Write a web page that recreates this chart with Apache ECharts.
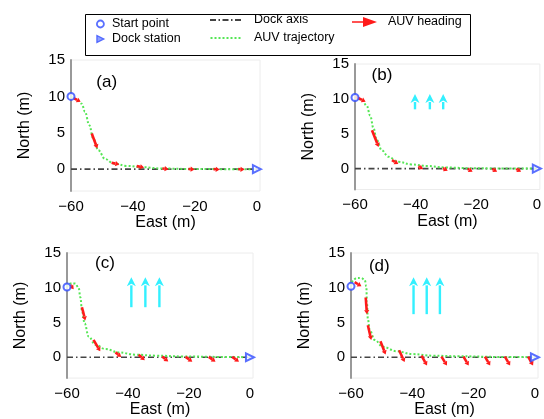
<!DOCTYPE html>
<html>
<head>
<meta charset="utf-8">
<script src="https://cdn.jsdelivr.net/npm/echarts@6/dist/echarts.min.js"></script>
<style>html,body{margin:0;padding:0;background:#fff;}#chart{width:544px;height:419px;}</style>
</head>
<body>
<div id="chart"></div>
<script>
// ---------- data ----------
var panelLabels = ['(a)', '(b)', '(c)', '(d)'];
var xTicks = [-60, -40, -20, 0];
var yTicks = [0, 5, 10, 15];
var dockAxis = [[-60, 0], [0, 0]];
var dockStation = [0, 0];

var startA = [-60, 10];
var startB = [-60, 10.2];
var startC = [-60, 10.1];
var startD = [-60, 10.2];

var trajA = [[-60,10],[-58.2,9.6],[-56.5,9.0],[-55.5,7.9],[-54.1,6.05],[-52.8,4.2],[-51.2,2.6],[-49,1.4],[-46.3,0.78],[-42,0.45],[-36.6,0.27],[-31.2,0.1],[-22,0.03],[-10,0],[0,0]];
var trajB = [[-60,10.2],[-57.7,9.9],[-56.1,9.0],[-55,7.6],[-53.9,5.8],[-52.8,4.1],[-51.2,2.65],[-49,1.7],[-45.8,0.98],[-41.4,0.6],[-36,0.36],[-30.6,0.17],[-21.9,0.05],[-10,0],[0,0]];
var trajC = [[-60,10.1],[-58.9,10.6],[-57.3,10.6],[-56.2,10.0],[-55.6,8.6],[-55.1,6.7],[-54.2,4.85],[-52.9,2.97],[-50.7,1.8],[-47.4,1.17],[-43,0.7],[-37.6,0.37],[-31,0.23],[-22.2,0.12],[-10,0.05],[0,0]];
var trajD = [[-60,10.2],[-59.3,11.1],[-58.2,11.4],[-56.6,11.4],[-55.5,11.1],[-55,10.2],[-54.8,7.9],[-54.5,5.5],[-53.9,3.9],[-52.3,2.5],[-49.6,1.5],[-45.2,0.87],[-39.8,0.45],[-33.3,0.23],[-25.6,0.15],[-12,0.05],[0,0]];

// heading arrows: [x, y, dx, dy]
var headA = [[-59.3,9.8,2.4,-0.55],[-53.3,4.9,1.8,-2.05],[-46.9,0.87,2.5,-0.22],[-38.8,0.42,2.4,-0.2],[-30.5,0.1,2.0,-0.1],[-22.1,0.02,2.0,-0.05],[-14,0,2,-0.05],[-6,0,2,-0.05]];
var headB = [[-59.8,10.3,3.3,-0.7],[-54.4,5.5,2.2,-2.4],[-47.8,1.2,2.1,-0.55],[-39.1,0.3,1.6,-0.35],[-31,0.05,1.6,-0.35],[-22.8,-0.05,1.6,-0.4],[-14.7,-0.05,1.6,-0.4],[-6.8,-0.05,1.6,-0.4]];
var headC = [[-58.9,10.4,1.1,-0.6],[-55.1,7.2,1.1,-1.9],[-51.3,2.5,2.2,-1.65],[-44.1,0.7,1.9,-0.66],[-36.5,0.37,2.0,-0.8],[-28.8,0.1,2.0,-0.7],[-21.1,0.05,2.2,-0.7],[-13.5,0.05,2.2,-0.7],[-5.8,0.05,2.2,-0.7]];
var headD = [[-58.8,10.8,2.2,-0.6],[-55.2,8.6,0.4,-2.4],[-54.5,4.6,1.1,-2.1],[-50.4,2.3,1.7,-1.9],[-44.3,1.0,1.8,-1.7],[-37,0.25,1.8,-1.45],[-30.5,0.1,1.8,-1.3],[-23.3,0.1,1.7,-1.3],[-16.3,0.1,1.7,-1.3],[-9.8,0.1,1.7,-1.3],[-2.2,0.1,1.6,-1.3]];

// current arrows: [x, yTail, yHead]
var currentA = [];
var currentB = [[-40.2,8.5,10.7],[-35.3,8.5,10.7],[-30.9,8.5,10.7]];
var currentC = [[-38.9,7.2,11.5],[-34.3,7.2,11.5],[-29.7,7.2,11.5]];
var currentD = [[-39.6,6.2,11.5],[-35.3,6.2,11.5],[-31.0,6.2,11.5]];

// ---------- layout ----------
var FONT = '"Liberation Sans", Arial, sans-serif';
var grids = [
  {left: 71, top: 60, width: 189, height: 131},
  {left: 355, top: 64, width: 187, height: 125.5},
  {left: 67, top: 253, width: 186, height: 127.5},
  {left: 351, top: 253, width: 187, height: 127.5}
];
var labelPos = [[106.7, 82.3], [382, 75], [105, 263.3], [379.3, 266]];
var starts = [startA, startB, startC, startD];
var trajs = [trajA, trajB, trajC, trajD];
var heads = [headA, headB, headC, headD];
var currents = [currentA, currentB, currentC, currentD];

function fmtX(v) {
  if (xTicks.indexOf(v) < 0) return '';
  return v < 0 ? '\u2212' + (-v) : String(v);
}
function fmtY(v) {
  return yTicks.indexOf(v) < 0 ? '' : String(v);
}

var xAxes = [], yAxes = [], series = [], gridOpts = [];
grids.forEach(function (g, i) {
  gridOpts.push({left: g.left, top: g.top, width: g.width, height: g.height,
    show: true, borderColor: '#ececec', borderWidth: 1});
  xAxes.push({
    type: 'value', gridIndex: i, min: -60, max: 1, interval: 20,
    name: 'East (m)', nameLocation: 'middle', nameGap: 23,
    nameTextStyle: {fontFamily: FONT, fontSize: 16, color: '#000'},
    axisLine: {show: false, onZero: false}, axisTick: {show: false}, splitLine: {show: false},
    axisLabel: {formatter: fmtX, fontFamily: FONT, fontSize: 15, color: '#000', margin: 8}
  });
  yAxes.push({
    type: 'value', gridIndex: i, min: -3, max: 15, interval: 1,
    name: 'North (m)', nameLocation: 'middle', nameGap: 38,
    nameTextStyle: {fontFamily: FONT, fontSize: 16, color: '#000'},
    axisLine: {show: true, onZero: false, lineStyle: {color: '#999', width: 2}},
    axisTick: {show: false},
    splitLine: {show: false},
    axisLabel: {formatter: fmtY, fontFamily: FONT, fontSize: 15, color: '#000', margin: 6}
  });
  series.push({
    name: 'Dock axis', type: 'line', xAxisIndex: i, yAxisIndex: i, z: 2,
    data: dockAxis, showSymbol: false, symbol: 'none', silent: true,
    itemStyle: {color: '#444'},
    lineStyle: {color: '#444', width: 1.6, type: [6, 3, 1.5, 3]}
  });
  series.push({
    name: 'AUV trajectory', type: 'line', xAxisIndex: i, yAxisIndex: i, z: 3,
    data: trajs[i], showSymbol: false, symbol: 'none', smooth: 0.4, smoothMonotone: 'x', silent: true,
    itemStyle: {color: '#55e655'},
    lineStyle: {color: '#55e655', width: 2, type: 'dotted'}
  });
  series.push({
    name: 'AUV heading', type: 'custom', xAxisIndex: i, yAxisIndex: i, z: 4,
    data: heads[i], silent: true,
    itemStyle: {color: '#ff1a1a'},
    renderItem: function (params, api) {
      var p0 = api.coord([api.value(0), api.value(1)]);
      var p1 = api.coord([api.value(0) + api.value(2), api.value(1) + api.value(3)]);
      var ang = Math.atan2(p1[1] - p0[1], p1[0] - p0[0]);
      var hl = 4, hw = 2.6;
      var bx = p1[0] - hl * Math.cos(ang), by = p1[1] - hl * Math.sin(ang);
      var nx = -Math.sin(ang), ny = Math.cos(ang);
      return {type: 'group', children: [
        {type: 'line', shape: {x1: p0[0], y1: p0[1], x2: bx, y2: by},
          style: {stroke: '#ff1a1a', lineWidth: 2.6}},
        {type: 'polygon', shape: {points: [[p1[0], p1[1]], [bx + nx * hw, by + ny * hw], [bx - nx * hw, by - ny * hw]]},
          style: {fill: '#ff1a1a'}}
      ]};
    }
  });
  if (currents[i].length) {
    series.push({
      name: 'Current', type: 'custom', xAxisIndex: i, yAxisIndex: i, z: 4,
      data: currents[i], silent: true,
      itemStyle: {color: '#33f0ff'},
      encode: {x: 0, y: [1, 2]},
      renderItem: function (params, api) {
        var p0 = api.coord([api.value(0), api.value(1)]);
        var p1 = api.coord([api.value(0), api.value(2)]);
        var hl = 9, hw = 4.5;
        return {type: 'group', children: [
          {type: 'line', shape: {x1: p0[0], y1: p0[1], x2: p1[0], y2: p1[1] + hl - 1},
            style: {stroke: '#33f0ff', lineWidth: 2.4}},
          {type: 'polygon', shape: {points: [[p1[0], p1[1]], [p1[0] + hw, p1[1] + hl], [p1[0], p1[1] + hl - 2.5], [p1[0] - hw, p1[1] + hl]]},
            style: {fill: '#33f0ff'}}
        ]};
      }
    });
  }
  series.push({
    name: 'Start point', type: 'scatter', xAxisIndex: i, yAxisIndex: i, z: 6,
    data: [starts[i]], symbol: 'emptyCircle', symbolSize: 7, silent: true,
    itemStyle: {color: '#2f4bff', borderColor: '#2f4bff', borderWidth: 1.6}
  });
  series.push({
    name: 'Dock station', type: 'scatter', xAxisIndex: i, yAxisIndex: i, z: 6,
    data: [dockStation], symbol: 'emptyTriangle', symbolRotate: -90, symbolSize: 8, silent: true,
    itemStyle: {color: '#2f4bff', borderColor: '#2f4bff', borderWidth: 1.6}
  });
});

var graphics = [{
  type: 'rect', left: 83, top: 12, z: 100,
  shape: {width: 385, height: 41},
  style: {fill: 'none', stroke: '#000', lineWidth: 1}
}];
panelLabels.forEach(function (t, i) {
  graphics.push({type: 'text', x: labelPos[i][0], y: labelPos[i][1], z: 100,
    style: {text: t, font: '17px ' + FONT, fill: '#000', textAlign: 'center', textVerticalAlign: 'middle'}});
});

// legend icon paths
function rectPath(x0, x1) { return 'M' + x0 + ',0L' + x1 + ',0L' + x1 + ',2L' + x0 + ',2Z'; }
var dashDotIcon = 'path://' + rectPath(0, 6) + rectPath(8.5, 10) + rectPath(12.5, 18.5) + rectPath(21, 22.5) + rectPath(25, 31);
var dotted = [];
for (var k = 0; k <= 28; k += 4) dotted.push(rectPath(k, k + 2));
var dottedIcon = 'path://' + dotted.join('');

var legendText = {fontFamily: FONT, fontSize: 12.5, color: '#000', lineHeight: 14};
var option = {
  animation: false,
  backgroundColor: '#fff',
  grid: gridOpts,
  xAxis: xAxes,
  yAxis: yAxes,
  legend: [
    {left: 91, top: 12, orient: 'vertical', selectedMode: false, itemWidth: 7, itemHeight: 7, itemGap: 1,
      data: [
        {name: 'Start point', icon: 'circle', itemStyle: {color: '#fff', borderColor: '#2f4bff', borderWidth: 1.8}},
        {name: 'Dock station', icon: 'path://M0,0L10,5L0,10Z', itemStyle: {color: '#6f86ff', borderColor: '#2f4bff', borderWidth: 1.2}}
      ],
      textStyle: Object.assign({padding: [0, 0, 0, 3]}, legendText)},
    {left: 205, top: 8, orient: 'vertical', selectedMode: false, itemWidth: 31, itemHeight: 2, itemGap: 4,
      data: [
        {name: 'Dock axis', icon: dashDotIcon, itemStyle: {color: '#444', borderWidth: 0}},
        {name: 'AUV trajectory', icon: dottedIcon, itemStyle: {color: '#55e655', borderWidth: 0}}
      ],
      textStyle: Object.assign({padding: [0, 0, 0, 8]}, legendText)},
    {left: 347, top: 10, orient: 'vertical', selectedMode: false, itemWidth: 25, itemHeight: 10,
      data: [{name: 'AUV heading', icon: 'path://M0,4.3L11,4.3L11,0L25,5L11,10L11,5.7L0,5.7Z', itemStyle: {color: '#ff1a1a', borderWidth: 0}}],
      textStyle: Object.assign({padding: [0, 0, 0, 6]}, legendText)}
  ],
  graphic: graphics,
  series: series
};
var chart = echarts.init(document.getElementById('chart'), null, {renderer: 'canvas'});
chart.setOption(option);
</script>
</body>
</html>
